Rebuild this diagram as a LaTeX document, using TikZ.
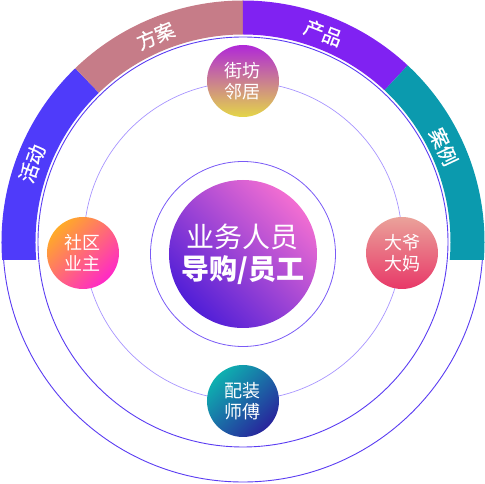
\documentclass[tikz,border=0pt]{standalone}
\usepackage{fontspec}
\newfontfamily\cjk{Noto Sans CJK SC}
\newfontfamily\cjktag[FakeBold=0.7]{Noto Sans CJK SC}
\definecolor{ringline}{HTML}{5A3CF2}
\definecolor{orbitline}{HTML}{A895FF}
\definecolor{innerline}{HTML}{7A5BF6}
\definecolor{huodong}{HTML}{4F3BFA}
\definecolor{fangan}{HTML}{C67C88}
\definecolor{chanpin}{HTML}{8022F2}
\definecolor{anli}{HTML}{0B9AAE}
\definecolor{staffA}{HTML}{501ED7}
\definecolor{staffB}{HTML}{DC37A5}
\definecolor{staffC}{HTML}{F26ED2}
\definecolor{jiefangA}{HTML}{B028D8}
\definecolor{jiefangB}{HTML}{E4D648}
\definecolor{shequA}{HTML}{FFAA28}
\definecolor{shequB}{HTML}{FF28C8}
\definecolor{dayeA}{HTML}{EAA29A}
\definecolor{dayeB}{HTML}{E83868}
\definecolor{peizhuangA}{HTML}{0EB0B0}
\definecolor{peizhuangB}{HTML}{28249C}

\begin{document}
\begin{tikzpicture}[x=1pt, y=1pt,
    ring/.style={draw=ringline, line width=0.9pt},
    bubble/.style={circle, minimum size=72pt, inner sep=0pt, text=white,
        align=center, font=\cjk\fontsize{18}{21}\selectfont},
    tag/.style={text=white, inner sep=0pt, font=\cjktag\fontsize{19.5}{20}\selectfont}]
\useasboundingbox (-243,-242) rectangle (242,242);

% outer rings
\draw[ring] (0,0) circle (240);
\draw[ring] (0,0) circle (205);

% band segments
\begin{scope}
    \clip (-245,-18) rectangle (245,245);
    \fill[huodong] (134:241.5) arc (134:190:241.5) -- (190:207.5) arc (190:134:207.5) -- cycle;
    \fill[fangan]  (90:241.5) arc (90:134:241.5) -- (134:207.5) arc (134:90:207.5) -- cycle;
    \fill[chanpin] (47:241.5) arc (47:90:241.5) -- (90:207.5) arc (90:47:207.5) -- cycle;
    \fill[anli]    (-10:241.5) arc (-10:47:241.5) -- (47:207.5) arc (47:-10:207.5) -- cycle;
\end{scope}
\node[tag, rotate=69.6]  (huodongtag) at (159.6:225) {活动};
\node[tag, rotate=23]    (fangantag)  at (113:224) {方案};
\node[tag, rotate=-21]   (chanpintag) at (69:224) {产品};
\node[tag, rotate=-64.6] (anlitag)    at (25.4:222) {案例};

% orbit and inner ring
\draw[orbitline, line width=0.7pt] (0,1) circle (159);
\draw[innerline, line width=0.8pt] (0,-12) circle (92.5);

% center
\node[circle, minimum size=148pt, inner sep=0pt, text=white, align=center,
    left color=staffA, middle color=staffB, right color=staffC, shading angle=135,
    font=\cjk\fontsize{28}{32}\selectfont] (staff) at (0,-12)
    {业务人员\\{\bfseries 导购/员工}};

% bubbles on the orbit
\node[bubble, top color=jiefangA, bottom color=jiefangB] (jiefang) at (0,161) {街坊\\邻居};
\node[bubble, left color=shequA, right color=shequB, shading angle=45] (shequ) at (-160,-11) {社区\\业主};
\node[bubble, top color=dayeA, bottom color=dayeB] (daye) at (159,-11) {大爷\\大妈};
\node[bubble, left color=peizhuangA, right color=peizhuangB, shading angle=45] (peizhuang) at (0,-159) {配装\\师傅};
\end{tikzpicture}
\end{document}
